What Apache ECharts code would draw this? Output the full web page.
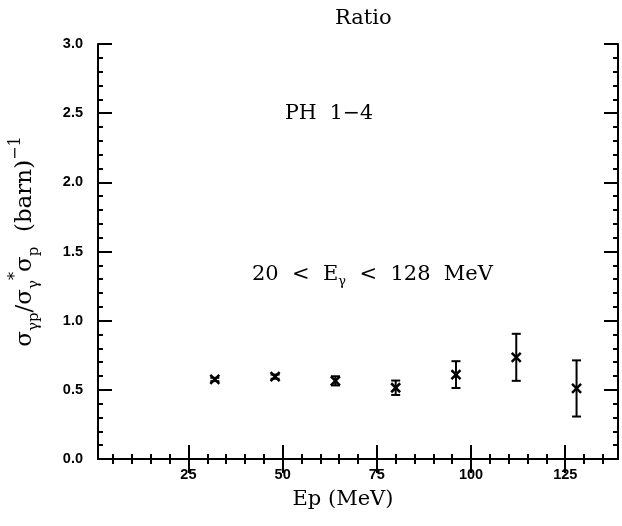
<!DOCTYPE html>
<html><head><meta charset="utf-8">
<script src="https://cdn.jsdelivr.net/npm/echarts@6/dist/echarts.min.js"></script>
<style>html,body{margin:0;padding:0;background:#fff}#c{width:622px;height:526px}</style>
</head><body><div id="c"></div>
<script>
const energies = [32, 48, 64, 80, 96, 112, 128];
const ratios = [0.575, 0.595, 0.565, 0.515, 0.61, 0.735, 0.51];
const errors = [0.012, 0.015, 0.033, 0.052, 0.097, 0.17, 0.203];
const xMajorTicks = [25, 50, 75, 100, 125];
const xMinorTicks = [5,10,15,20,30,35,40,45,55,60,65,70,80,85,90,95,105,110,115,120,130,135];
const yMajorTicks = [0, 0.5, 1, 1.5, 2, 2.5, 3];
const yMinorTicks = [0.1,0.2,0.3,0.4,0.6,0.7,0.8,0.9,1.1,1.2,1.3,1.4,1.6,1.7,1.8,1.9,2.1,2.2,2.3,2.4,2.6,2.7,2.8,2.9];

const chart = echarts.init(document.getElementById('c'));
const black = '#000';
const serif = 'DejaVu Serif';
const labelFont = {fontFamily: 'Liberation Sans', fontWeight: 'bold', fontSize: 14.5, color: black};

function xAx(pos, major, line, labels) {
  return {
    type: 'value', min: 1, max: 139, position: pos,
    axisLine: {show: line, lineStyle: {color: black, width: 2}},
    axisTick: {show: true, inside: true, length: major ? 14 : 5,
      customValues: major ? xMajorTicks : xMinorTicks,
      lineStyle: {color: black, width: 2}},
    axisLabel: labels ? Object.assign({customValues: xMajorTicks, margin: 8}, labelFont) : {show: false},
    splitLine: {show: false}
  };
}
function yAx(pos, major, line, labels) {
  return {
    type: 'value', min: 0, max: 3, position: pos,
    axisLine: {show: line, lineStyle: {color: black, width: 2}},
    axisTick: {show: true, inside: true, length: major ? 14 : 5,
      customValues: major ? yMajorTicks : yMinorTicks,
      lineStyle: {color: black, width: 2}},
    axisLabel: labels ? Object.assign({customValues: yMajorTicks, margin: 15,
      formatter: v => v.toFixed(1)}, labelFont) : {show: false},
    splitLine: {show: false}
  };
}

const xs = [xAx('bottom', true, true, true), xAx('bottom', false, false, false),
            xAx('top', true, true, false), xAx('top', false, false, false)];
xs[0].name = 'Ep (MeV)';
xs[0].nameLocation = 'middle';
xs[0].nameGap = 30;
xs[0].nameTextStyle = {fontFamily: serif, fontSize: 21, color: black, padding: [0, 30, 0, 0]};

const ys = [yAx('left', true, true, true), yAx('left', false, false, false),
            yAx('right', true, true, false), yAx('right', false, false, false)];
ys[0].name = '{s|σ}{sub|γp}{s|/σ}{sub|γ}{sup|*}{s|σ}{sub|p}{s|  (barn)}{sup|−1}';
ys[0].nameLocation = 'middle';
ys[0].nameRotate = 90;
ys[0].nameGap = 56;
ys[0].nameTextStyle = {
  color: black,
  padding: [0, 0, 0, 20],
  rich: {
    s: {fontFamily: serif, fontSize: 23, color: black, lineHeight: 34, verticalAlign: 'middle'},
    sub: {fontFamily: serif, fontSize: 15, color: black, lineHeight: 15, verticalAlign: 'bottom'},
    sup: {fontFamily: serif, fontSize: 16, color: black, lineHeight: 16, verticalAlign: 'top'}
  }
};

const data = energies.map((x, i) => [x, ratios[i], errors[i]]);

chart.setOption({
  backgroundColor: '#fff',
  animation: false,
  title: {
    text: 'Ratio', left: 330, top: 3,
    textStyle: {fontFamily: serif, fontSize: 21, fontWeight: 'normal', color: black}
  },
  grid: {left: 92, right: 4, top: 44, bottom: 67, containLabel: false},
  xAxis: xs,
  yAxis: ys,
  series: [{
    type: 'custom',
    xAxisIndex: 0, yAxisIndex: 0,
    data: data,
    renderItem: function (params, api) {
      const x = api.value(0), y = api.value(1), e = api.value(2);
      const c = api.coord([x, y]);
      const t = api.coord([x, y + e]);
      const b = api.coord([x, y - e]);
      const cw = 4.5, m = 4.5;
      const st = {stroke: black, lineWidth: 2};
      const st2 = {stroke: black, lineWidth: 2.5};
      return {type: 'group', children: [
        {type: 'line', shape: {x1: c[0], y1: t[1], x2: c[0], y2: b[1]}, style: st},
        {type: 'line', shape: {x1: c[0] - cw, y1: t[1], x2: c[0] + cw, y2: t[1]}, style: st},
        {type: 'line', shape: {x1: c[0] - cw, y1: b[1], x2: c[0] + cw, y2: b[1]}, style: st},
        {type: 'line', shape: {x1: c[0] - m, y1: c[1] - m, x2: c[0] + m, y2: c[1] + m}, style: st2},
        {type: 'line', shape: {x1: c[0] - m, y1: c[1] + m, x2: c[0] + m, y2: c[1] - m}, style: st2}
      ]};
    }
  }],
  graphic: [
    {type: 'text', left: 285, top: 103,
     style: {text: 'PH  1−4', fontFamily: serif, fontSize: 20.5, fill: black}},
    {type: 'text', left: 252, top: 264,
     style: {
       text: '{s|20  <  E}{sub|γ}{s|  <  128  MeV}',
       rich: {
         s: {fontFamily: serif, fontSize: 21, fill: black, lineHeight: 28, verticalAlign: 'middle'},
         sub: {fontFamily: serif, fontSize: 13, fill: black, lineHeight: 12, verticalAlign: 'bottom'}
       }
     }}
  ]
});
</script>
</body></html>
